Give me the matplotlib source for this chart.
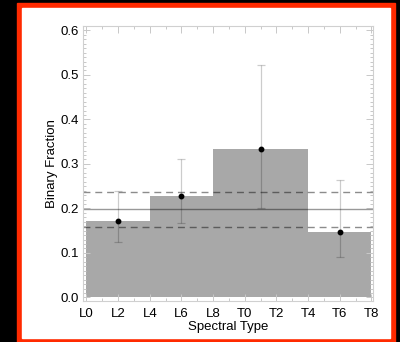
import matplotlib
matplotlib.use("Agg")
import matplotlib.pyplot as plt
from matplotlib.patches import Rectangle
from matplotlib.ticker import MultipleLocator, FormatStrFormatter

plt.rcParams['font.family'] = ['Liberation Sans', 'DejaVu Sans']

# Spectral type axis: L0 = 0 ... T8 = 18
tick_labels = ["L0", "L2", "L4", "L6", "L8", "T0", "T2", "T4", "T6", "T8"]
tick_pos = [0, 2, 4, 6, 8, 10, 12, 14, 16, 18]

# Histogram bins (left edge, width) and binary fraction per bin
bin_left = [0, 4, 8, 14]
bin_width = [4, 4, 6, 4]
bin_frac = [0.171, 0.227, 0.333, 0.148]

# Measured points with asymmetric uncertainties
pt_x = [2, 6, 11, 16]
pt_y = [0.171, 0.227, 0.333, 0.148]
pt_lo = [0.125, 0.167, 0.201, 0.090]
pt_hi = [0.240, 0.311, 0.523, 0.265]

# Overall fraction and its bounds
overall = 0.198
overall_lo = 0.158
overall_hi = 0.238

W, H = 400, 342
fig = plt.figure(figsize=(W / 100, H / 100), dpi=100, facecolor="black")

# red frame with white panel
fig.patches.append(Rectangle((17 / W, 0), (395 - 17) / W, 339 / H,
                             transform=fig.transFigure, color="#ff2a00", zorder=-10))
fig.patches.append(Rectangle((22 / W, 4 / H), (390 - 22) / W, (334 - 4) / H,
                             transform=fig.transFigure, color="white", zorder=-9))

ax = fig.add_axes([83 / W, (H - 301) / H, (373 - 83) / W, (301 - 26) / H])
ax.set_zorder(5)
ax.set_facecolor("none")

ax.bar(bin_left, bin_frac, width=bin_width, align="edge",
       color="#a8a8a8", linewidth=0, zorder=1)

ax.axhline(overall, color="black", alpha=0.4, linewidth=1.0, zorder=2)
for yv in (overall_lo, overall_hi):
    ax.axhline(yv, color="black", alpha=0.45, linewidth=1.0,
               linestyle=(0, (5, 3.5)), zorder=2)

yerr = [[y - lo for y, lo in zip(pt_y, pt_lo)],
        [hi - y for y, hi in zip(pt_y, pt_hi)]]
ax.errorbar(pt_x, pt_y, yerr=yerr, fmt="none", ecolor="black", alpha=0.2,
            elinewidth=0.9, capsize=2.6, capthick=0.9, zorder=3)
ax.plot(pt_x, pt_y, "o", color="black", markersize=3.2, zorder=4)

ax.set_xlim(-0.22, 18.1)
ax.set_ylim(-0.008, 0.61)
ax.set_xticks(tick_pos)
ax.set_xticklabels(tick_labels)
ax.xaxis.set_minor_locator(MultipleLocator(1))
ax.yaxis.set_major_locator(MultipleLocator(0.1))
ax.yaxis.set_minor_locator(MultipleLocator(0.01))
ax.yaxis.set_major_formatter(FormatStrFormatter("%.1f"))

ax.tick_params(which="both", direction="in", top=True, right=True,
               color="#c8c8c8", width=0.7, labelsize=9.5, pad=5)
ax.tick_params(which="major", length=5)
ax.tick_params(which="minor", length=2.5)
ax.tick_params(axis="y", pad=3)
for sp in ax.spines.values():
    sp.set_color("#d0d0d0")
    sp.set_linewidth(0.8)

ax.set_xlabel("Spectral Type", fontsize=9.5, labelpad=1)
ax.set_ylabel("Binary Fraction", fontsize=9.5, labelpad=2)

fig.savefig("out.png", dpi=100, facecolor="black")
